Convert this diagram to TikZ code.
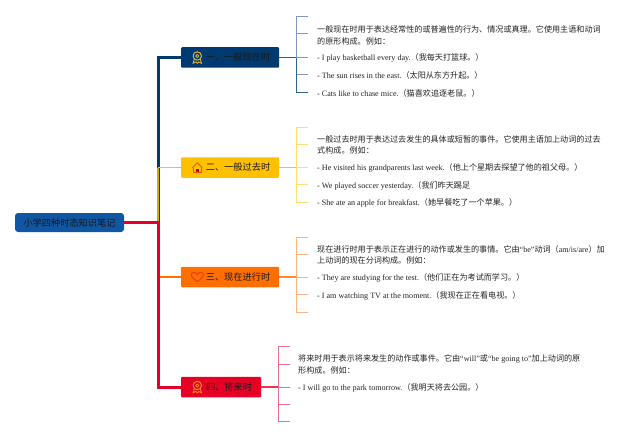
\documentclass[tikz,border=0pt]{standalone}
\usepackage{fontspec}
\setmainfont{Liberation Serif}
\newfontfamily\cjk{Noto Sans CJK SC}
\usetikzlibrary{positioning}
\definecolor{navy}{HTML}{003A70}
\definecolor{navylight}{HTML}{7F97C2}
\definecolor{gold}{HTML}{FFC000}
\definecolor{goldlight}{HTML}{FFDD73}
\definecolor{tang}{HTML}{FF6E00}
\definecolor{tanglight}{HTML}{FFB27F}
\definecolor{scarlet}{HTML}{E60026}
\definecolor{scarletlight}{HTML}{E8708C}
\definecolor{rootblue}{HTML}{0F56A3}
\definecolor{inktext}{HTML}{222222}
\tikzset{
  topic/.style={fill=#1, minimum height=20.5pt, inner sep=0pt, rounded corners=1pt, text=black!90, font=\cjk\fontsize{9.2}{9.2}\selectfont},
  leaf/.style={anchor=west, align=left, inner sep=0pt, text=inktext, font=\fontsize{8.1}{11.6}\selectfont},
  medal/.pic={
    \draw[pic actions, line width=1pt] (0,-1.5) circle (4.2pt);
    \draw[pic actions, line width=.8pt] (0,-1.5) circle (1.6pt);
    \draw[pic actions, line width=.9pt] (-3,1.5) -- (-4.2,5.8) -- (-1.5,4.4) -- (0,5.8) -- (1.5,4.4) -- (4.2,5.8) -- (3,1.5);
  },
  house/.pic={
    \draw[pic actions, line width=.9pt, line join=round] (-5,.5) -- (0,-4.8) -- (5,.5);
    \draw[pic actions, line width=.9pt] (-3.8,.2) -- (-3.8,4.6) -- (3.8,4.6) -- (3.8,.2);
    \fill[red!80!black] (-1.3,1.2) rectangle (1.3,4.6);
  },
  heart/.pic={
    \draw[pic actions, line width=.9pt, line join=round] (0,4.6) .. controls (-3,2.4) and (-6,0) .. (-6,-2) .. controls (-6,-5.4) and (-1.4,-5.4) .. (0,-2.4) .. controls (1.4,-5.4) and (6,-5.4) .. (6,-2) .. controls (6,0) and (3,2.4) .. (0,4.6);
  }
}
\begin{document}
\begin{tikzpicture}[%
x=1pt,
y=-1pt,
on grid
]
\useasboundingbox (0,0) rectangle (640,436);
\node[fill=rootblue, minimum width=109pt, minimum height=19pt, inner sep=0pt, rounded corners=3pt, text=black!90, font=\cjk\fontsize{9.2}{9.2}\selectfont] (root) at (69.5,222.5) {小学四种时态知识笔记};
\node[topic=navy, minimum width=98pt] (present) [above right=165pt and 160.5pt of root] {\hspace*{16pt}一、一般现在时};
\node[topic=gold, minimum width=98pt] (past) [above right=55pt and 160.5pt of root] {\hspace*{16pt}二、一般过去时};
\node[topic=tang, minimum width=98pt] (progress) [below right=54.5pt and 160.5pt of root] {\hspace*{16pt}三、现在进行时};
\node[topic=scarlet, minimum width=80pt] (future) [below right=164.5pt and 151.5pt of root] {\hspace*{16pt}四、将来时};

% icons
\pic[draw={rgb,255:red,214;green,178;blue,60}] at ([xshift=16.5pt]present.west) {medal};
\pic[draw={rgb,255:red,235;green,90;blue,10}] at ([xshift=16.5pt]past.west) {house};
\pic[draw={rgb,255:red,225;green,60;blue,20}] at ([xshift=16.5pt]progress.west) {heart};
\pic[draw={rgb,255:red,255;green,140;blue,30}] at ([xshift=16.5pt]future.west) {medal};

% trunk
\coordinate (hub) at (158,222.5);
\draw[navy, line width=3pt] (hub) |- (present.west);
\draw[gold!85!black, line width=2.4pt] (hub) -- (hub |- past.west);
\draw[gold, line width=1.6pt] (hub |- past.west) -- (past.west);
\draw[tang, line width=1.6pt] (hub |- progress.west) -- (progress.west);
\draw[scarlet, line width=3pt] (root.east) -- (hub) |- (future.west);

% present: ticks
\foreach \n/\y in {a/17,b/34,c/57.5,d/75,e/92} \coordinate (p\n) at (308,\y);
\coordinate (pspine) at (296,57.5);
\foreach \n in {a,b,d,e} \draw[navylight, line width=1pt] (pspine) |- (p\n);
\draw[navy!80, line width=1pt] (pspine) -- (pspine |- pe) -- (pe);
\draw[navy!80, line width=1.1pt] (present.east) -- (pspine);
\draw[navylight, line width=1pt] (pspine) -- (pc);

% past: ticks
\foreach \n/\y in {a/127,b/144,c/167.5,d/184,e/202} \coordinate (q\n) at (308,\y);
\coordinate (qspine) at (296,167.5);
\foreach \n in {a,b,d,e} \draw[goldlight, line width=1pt] (qspine) |- (q\n);
\draw[gold, line width=1.1pt] (past.east) -- (qspine);
\draw[goldlight, line width=1pt] (qspine) -- (qc);

% progress: ticks
\foreach \n/\y in {a/237,b/254,c/277,d/294,e/312} \coordinate (r\n) at (308,\y);
\coordinate (rspine) at (296,277);
\foreach \n in {a,b,d,e} \draw[tanglight, line width=1pt] (rspine) |- (r\n);
\draw[tang!80, line width=1.1pt] (progress.east) -- (rspine);
\draw[tanglight, line width=1pt] (rspine) -- (rc);

% future: ticks
\foreach \n/\y in {a/346,b/364,c/387,d/404,e/421} \coordinate (s\n) at (290,\y);
\coordinate (sspine) at (278,387);
\foreach \n in {a,b,d,e} \draw[scarletlight, line width=1pt] (sspine) |- (s\n);
\draw[scarlet!80, line width=1.1pt] (future.east) -- (sspine);
\draw[scarletlight, line width=1pt] (sspine) -- (sc);

% texts
\node[leaf] (p1) at (317,35.7) {\cjk 一般现在时用于表达经常性的或普遍性的行为、情况或真理。它使用主语和动词\\ \cjk 的原形构成。例如：};
\node[leaf] (p2) at (317,58) {- I play basketball every day.{\cjk（我每天打篮球。）}};
\node[leaf] (p3) at (317,75.5) {- The sun rises in the east.{\cjk（太阳从东方升起。）}};
\node[leaf] (p4) at (317,93) {- Cats like to chase mice.{\cjk（猫喜欢追逐老鼠。）}};

\node[leaf] (q1) at (317,145) {\cjk 一般过去时用于表达过去发生的具体或短暂的事件。它使用主语加上动词的过去\\ \cjk 式构成。例如：};
\node[leaf] (q2) at (317,168) {- He visited his grandparents last week.{\cjk（他上个星期去探望了他的祖父母。）}};
\node[leaf] (q3) at (317,185.5) {- We played soccer yesterday.{\cjk（我们昨天踢足}};
\node[leaf] (q4) at (317,203) {- She ate an apple for breakfast.{\cjk（她早餐吃了一个苹果。）}};

\node[leaf] (r1) at (317,255) {{\cjk 现在进行时用于表示正在进行的动作或发生的事情。它由}“be”{\cjk 动词（}am/is/are{\cjk ）加}\\ \cjk 上动词的现在分词构成。例如：};
\node[leaf] (r2) at (317,278) {- They are studying for the test.{\cjk（他们正在为考试而学习。）}};
\node[leaf] (r3) at (317,295.5) {- I am watching TV at the moment.{\cjk（我现在正在看电视。）}};

\node[leaf] (s1) at (298,364.5) {{\cjk 将来时用于表示将来发生的动作或事件。它由}“will”{\cjk 或}“be going to”{\cjk 加上动词的原}\\ \cjk 形构成。例如：};
\node[leaf] (s2) at (298,387.5) {- I will go to the park tomorrow.{\cjk（我明天将去公园。）}};
\end{tikzpicture}
\end{document}
